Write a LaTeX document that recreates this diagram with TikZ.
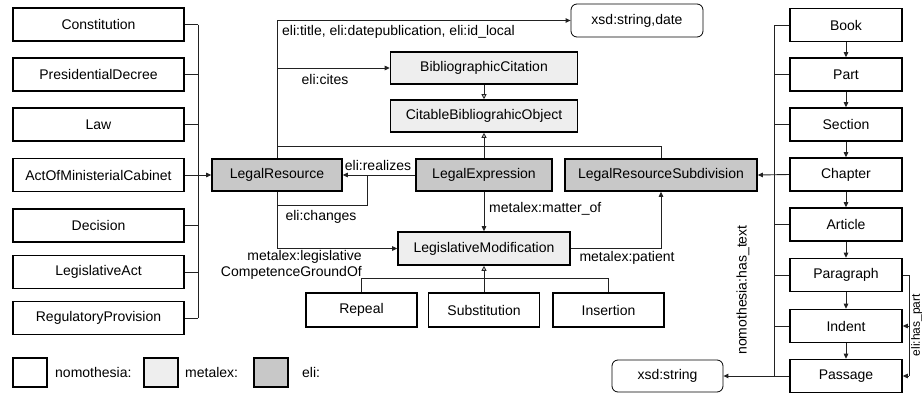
\documentclass[tikz,border=0pt]{standalone}
\usepackage{fontspec}
\setmainfont{Liberation Sans}
\usetikzlibrary{arrows.meta}
\definecolor{metafill}{HTML}{EEEEEE}
\definecolor{elifill}{HTML}{C8C8C8}
\definecolor{linec}{HTML}{222222}
\begin{document}
\begin{tikzpicture}[x=1pt,y=-1pt,
  font=\fontsize{14}{15.5}\selectfont,
  box/.style={draw=black,line width=1.6pt,fill=white,minimum height=33pt,inner sep=0pt},
  nbox/.style={box},
  mbox/.style={box,fill=metafill},
  ebox/.style={box,fill=elifill},
  rbox/.style={draw=black,line width=0.8pt,rounded corners=6pt,fill=white,minimum height=33pt,inner sep=0pt},
  conn/.style={draw=linec,line width=0.9pt},
  arr/.style={conn,-{Triangle[length=5pt,width=4.5pt]}},
  inh/.style={conn,-{Triangle[open,length=5pt,width=5pt]}},
  lbl/.style={inner sep=1pt}
]
\useasboundingbox (0,0) rectangle (922,394);

% left column
\node[nbox,minimum width=171pt] (con) at (98.5,24.5) {Constitution};
\node[nbox,minimum width=171pt] (pre) at (98.5,74.5) {PresidentialDecree};
\node[nbox,minimum width=171pt] (law) at (98.5,124.5) {Law};
\node[nbox,minimum width=171pt] (act) at (98.5,175) {ActOfMinisterialCabinet};
\node[nbox,minimum width=171pt] (dec) at (98.5,225.5) {Decision};
\node[nbox,minimum width=171pt] (leg) at (98.5,272) {LegislativeAct};
\node[nbox,minimum width=171pt] (reg) at (98.5,318) {RegulatoryProvision};

% centre
\node[ebox,minimum width=130pt,minimum height=32pt] (lr) at (277,175) {LegalResource};
\node[ebox,minimum width=136pt,minimum height=32pt] (le) at (484,175) {LegalExpression};
\node[ebox,minimum width=192pt,minimum height=32pt] (lrs) at (661,175) {LegalResourceSubdivision};
\node[mbox,minimum width=187pt,minimum height=32pt] (bc) at (484,68) {BibliographicCitation};
\node[mbox,minimum width=187pt,minimum height=32pt] (cbo) at (484,116) {CitableBibliograhicObject};
\node[rbox,minimum width=132pt] (xdate) at (637,20.5) {xsd:string,date};
\node[mbox,minimum width=172pt] (lm) at (484,248.5) {LegislativeModification};
\node[nbox,minimum width=111pt,minimum height=34pt] (rep) at (361.5,310) {Repeal};
\node[nbox,minimum width=111pt,minimum height=34pt] (sub) at (484,310) {Substitution};
\node[nbox,minimum width=111pt,minimum height=34pt] (ins) at (608.5,310) {Insertion};

% right column
\node[nbox,minimum width=112pt] (book) at (846,25) {Book};
\node[nbox,minimum width=112pt] (part) at (846,74.5) {Part};
\node[nbox,minimum width=112pt] (sec) at (846,124.5) {Section};
\node[nbox,minimum width=112pt] (chap) at (846,174.5) {Chapter};
\node[nbox,minimum width=112pt] (art) at (846,224.5) {Article};
\node[nbox,minimum width=112pt] (para) at (846,275) {Paragraph};
\node[nbox,minimum width=112pt] (ind) at (846,326) {Indent};
\node[nbox,minimum width=112pt] (pas) at (846,376) {Passage};
\node[rbox,minimum width=111pt,minimum height=32pt] (xstr) at (667.5,376) {xsd:string};

% legend
\node[nbox,minimum width=34pt,minimum height=29pt] (lg1) at (30,372.5) {};
\node[anchor=west,inner sep=0pt] (lt1) at (55,372.5) {nomothesia:};
\node[mbox,minimum width=34pt,minimum height=29pt] (lg2) at (161,372.5) {};
\node[anchor=west,inner sep=0pt] (lt2) at (185,372.5) {metalex:};
\node[ebox,minimum width=34pt,minimum height=29pt] (lg3) at (271,372.5) {};
\node[anchor=west,inner sep=0pt] (lt3) at (302,372.5) {eli:};

% left bus
\coordinate (lbt) at (198,24.5);
\coordinate (lbb) at (198,318);
\draw[conn] (lbt) -- (lbb);
\foreach \n in {con,pre,law,dec,leg,reg} \draw[conn] (\n.east) -- (\n.east -| lbt);
\draw[arr] (act.east) -- (lr.west);

% top relations of LegalResource
\draw[arr] (lr.north) |- (xdate.west);
\node[lbl,anchor=west] (lt) at (281,32) {eli:title, eli:datepublication, eli:id\_local};
\coordinate (cit) at (lr.north |- bc.west);
\draw[arr] (cit) -- (bc.west);
\node[lbl] (lc) at (325,79) {eli:cites};
\draw[inh] (bc.south) -- (cbo.north);
\draw[inh] (le.north) -- (cbo.south);
\coordinate (h1) at (277,146);
\draw[conn] (h1) -| (lrs.north);

% realizes / changes
\draw[arr] (le.west) -- (lr.east);
\node[lbl] (lrz) at (378,165) {eli:realizes};
\coordinate (ch1) at (367,175);
\coordinate (ch2) at (277,205);
\draw[conn] (ch1) |- (ch2);
\node[lbl] (lch) at (321,217) {eli:changes};
\draw[arr] (lr.south) |- (lm.west);
\node[lbl,anchor=east,align=right] (lcg) at (363,265) {metalex:legislative\\CompetenceGroundOf};

% matter_of / patient
\draw[arr] (le.south) -- (lm.north);
\node[lbl,anchor=west] (lmo) at (488,209) {metalex:matter\_of};
\draw[arr] (lm.east) -| (lrs.south);
\node[lbl] (lpa) at (627,258) {metalex:patient};

% modification subtypes
\draw[inh] (sub.north) -- (lm.south);
\draw[conn] (rep.north) -- ++(0,-14) -| (ins.north);

% right chain
\draw[arr] (book) -- (part);
\draw[arr] (part) -- (sec);
\draw[arr] (sec) -- (chap);
\draw[arr] (chap) -- (art);
\draw[arr] (art) -- (para);
\draw[arr] (para) -- (ind);
\draw[arr] (ind) -- (pas);

% right bus
\coordinate (rbt) at (774,25);
\coordinate (rbb) at (774,376);
\draw[conn] (rbt) -- (rbb);
\foreach \n in {book,part,sec,art,para,ind} \draw[conn] (\n.west) -- (\n.west -| rbt);
\draw[arr] (chap.west) -- (lrs.east);
\draw[arr] (pas.west) -- (xstr.east);
\node[lbl,rotate=90] (lht) at (743,290) {nomothesia:has\_text};

% has_part
\coordinate (hp1) at (909,275);
\coordinate (hp2) at (909,326);
\coordinate (hp3) at (909,376);
\draw[conn] (para.east) -- (hp1) -- (hp3);
\draw[arr] (hp3) -- (pas.east);
\draw[arr] (hp2) -- (ind.east);
\node[lbl,rotate=90,anchor=north,font=\fontsize{12}{13}\selectfont,inner sep=0.5pt] (lhp) at (910.5,325) {eli:has\_part};
\end{tikzpicture}
\end{document}
